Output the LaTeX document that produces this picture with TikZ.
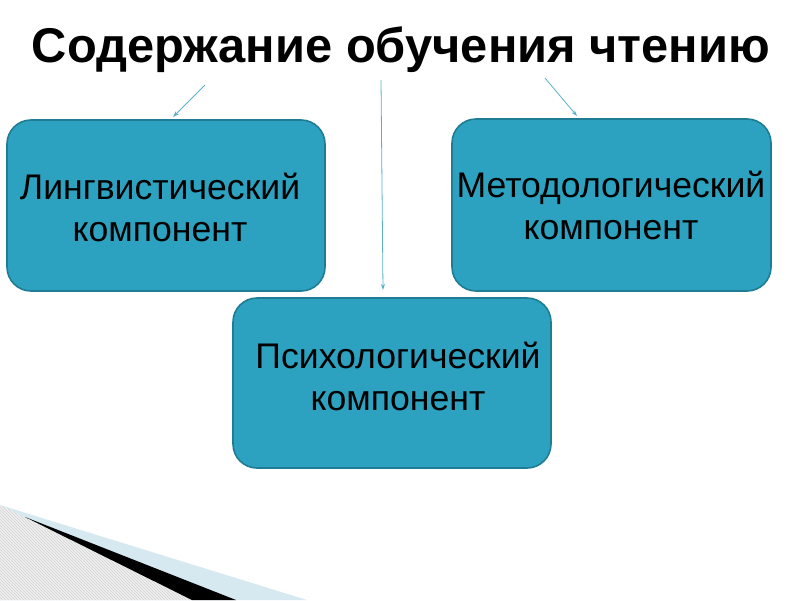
\documentclass[tikz,border=0pt]{standalone}
\usepackage{fontspec}
\setmainfont{Liberation Sans}
\usetikzlibrary{arrows.meta,patterns}
\definecolor{boxfill}{HTML}{2DA2C0}
\definecolor{boxline}{HTML}{1E7C95}
\definecolor{arrowc}{HTML}{5BB0C9}
\definecolor{bandc}{HTML}{D6E9F0}
\tikzset{
  compbox/.style={draw=boxline, line width=1.6pt, fill=boxfill, rounded corners=24pt},
  comptext/.style={align=center, font=\fontsize{35.6}{42}\selectfont, text=black},
  conn/.style={draw=arrowc, line width=0.8pt, -{Stealth[length=6pt,width=4pt]}}
}
\begin{document}
\begin{tikzpicture}[x=1pt,y=-1pt]
\useasboundingbox (0,0) rectangle (800,600);
% bottom-left decoration
\fill[bandc] (0,505) -- (307,600) -- (0,600) -- cycle;
\fill[gray!12] (0,505) -- (30,520) -- (192,600) -- (0,600) -- cycle;
\fill[pattern=north west lines, pattern color=gray!35] (0,505) -- (30,520) -- (192,600) -- (0,600) -- cycle;
\fill[black] (25,517) -- (236,600) -- (192,600) -- cycle;
% boxes
\draw[compbox] (7,120) rectangle (325,291);
\draw[compbox] (452,119) rectangle (771,291);
\draw[compbox] (233,298) rectangle (551,468);
\node[comptext] (ling) at (160,207) {Лингвистический\\компонент};
\node[comptext] (meth) at (611,205) {Методологический\\компонент};
\node[comptext] (psy) at (398,376) {Психологический\\компонент};
% title
\node[font=\bfseries\fontsize{48.8}{56}\selectfont] (title) at (401,50) {Содержание обучения чтению};
% connectors
\coordinate (a1) at (205,85);
\coordinate (a2) at (381,80);
\coordinate (a3) at (545,78);
\coordinate (b1) at (173,117);
\coordinate (b2) at (383,290);
\coordinate (b3) at (577,116);
\draw[conn] (a1) -- (b1);
\draw[conn] (a2) -- (b2);
\draw[conn] (a3) -- (b3);
\end{tikzpicture}
\end{document}
